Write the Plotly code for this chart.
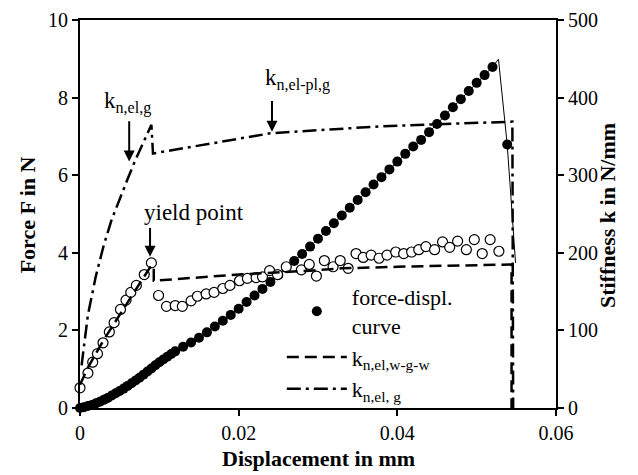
import plotly.graph_objects as go

# ---------------- data ----------------
# force-displacement curve (filled circles), F in N
disp_force = [0.0000, 0.0005, 0.0010, 0.0015, 0.0020, 0.0025, 0.0030, 0.0035, 0.0040, 0.0045,
              0.0050, 0.0055, 0.0060, 0.0065, 0.0070, 0.0075, 0.0080, 0.0085, 0.0090, 0.0095,
              0.0100, 0.0105, 0.0110, 0.0115, 0.0120, 0.0130, 0.0140, 0.0150, 0.0160, 0.0170,
              0.0180, 0.0190, 0.0200, 0.0210, 0.0220, 0.0230, 0.0240, 0.0250, 0.0260, 0.0270,
              0.0280, 0.0290, 0.0300, 0.0310, 0.0320, 0.0330, 0.0340, 0.0350, 0.0360, 0.0370,
              0.0380, 0.0390, 0.0400, 0.0410, 0.0420, 0.0430, 0.0440, 0.0450, 0.0460, 0.0470,
              0.0480, 0.0490, 0.0500, 0.0510, 0.0520]
force = [0.00, 0.02, 0.05, 0.08, 0.12, 0.16, 0.21, 0.26, 0.32, 0.38,
         0.44, 0.50, 0.57, 0.64, 0.71, 0.78, 0.86, 0.94, 1.02, 1.10,
         1.18, 1.25, 1.32, 1.39, 1.46, 1.58, 1.69, 1.81, 1.95, 2.10,
         2.25, 2.40, 2.56, 2.73, 2.90, 3.07, 3.25, 3.43, 3.61, 3.79,
         3.97, 4.16, 4.36, 4.56, 4.76, 4.96, 5.16, 5.36, 5.56, 5.76,
         5.95, 6.15, 6.35, 6.55, 6.74, 6.91, 7.11, 7.32, 7.54, 7.75,
         7.96, 8.17, 8.38, 8.58, 8.79]
# post-peak part of the force curve (thin line), and the single dot after the peak
tail_disp = [0.05275, 0.05385, 0.0549]
tail_force = [8.99, 6.79, 3.74]
drop_disp = [0.05385]
drop_force = [6.79]

# measured stiffness (open circles), k in N/mm
disp_stiff = [0.0000, 0.0010, 0.0016, 0.0022, 0.0029, 0.0037, 0.0043, 0.0051, 0.0058, 0.0064,
              0.0071, 0.0081, 0.0090, 0.0099, 0.0109, 0.0120, 0.0129, 0.0140, 0.0148, 0.0159,
              0.0169, 0.0180, 0.0189, 0.0201, 0.0211, 0.0222, 0.0230, 0.0239, 0.0249, 0.0260,
              0.0279, 0.0289, 0.0298, 0.0308, 0.0319, 0.0328, 0.0338, 0.0348, 0.0357, 0.0367,
              0.0377, 0.0387, 0.0398, 0.0408, 0.0418, 0.0427, 0.0436, 0.0447, 0.0457, 0.0466,
              0.0476, 0.0487, 0.0497, 0.0507, 0.0517, 0.0528]
stiff = [26, 45, 59, 70, 84, 98, 110, 127, 139, 149,
         158, 172, 187, 145, 131, 132, 131, 138, 144, 147,
         149, 154, 158, 164, 167, 168, 169, 177, 172, 182,
         178, 185, 170, 190, 182, 190, 180, 199, 194, 197,
         193, 197, 201, 199, 201, 204, 208, 204, 214, 207,
         215, 204, 217, 199, 217, 202]

# k_n,el,w-g-w (dashed), N/mm
disp_kw = [0.0, 0.001, 0.002, 0.003, 0.004, 0.005, 0.006, 0.007, 0.008, 0.009, 0.0093, 0.0093,
           0.012, 0.020, 0.029, 0.033, 0.040, 0.050, 0.0544, 0.0544]
k_w = [30, 52, 70, 88, 104, 120, 136, 152, 168, 184, 181, 164,
       166, 172, 177, 180, 182, 184, 185, -25]

# k_n,el,g (dash-dot), N/mm
disp_kg = [0.0002, 0.0005, 0.001, 0.002, 0.003, 0.004, 0.005, 0.006, 0.007, 0.008, 0.009, 0.0092,
           0.015, 0.024, 0.030, 0.038, 0.046, 0.0545, 0.0546]
k_g = [55, 80, 120, 170, 210, 243, 270, 295, 320, 343, 365, 328,
       338, 354, 358, 363, 366, 369, 0]

x_ticks = [0, 0.02, 0.04, 0.06]
x_ticktext = ["0", "0.02", "0.04", "0.06"]
yF_ticks = [0, 2, 4, 6, 8, 10]
yK_ticks = [0, 100, 200, 300, 400, 500]

# annotation labels: (text, x, y) and arrows: (x, tip y, tail y)
labels = [("k<sub>n,el,g</sub>", 0.00596, 7.87),
          ("k<sub>n,el-pl,g</sub>", 0.0274, 8.46),
          ("yield point", 0.01443, 5.03)]
arrows = [(0.0062, 6.35, 7.43),
          (0.0242, 7.12, 7.95),
          (0.00883, 3.90, 4.68)]

FONT = "Liberation Serif, Times New Roman, serif"

fig = go.Figure()

# thin line of the force curve (incl. post-peak)
fig.add_trace(go.Scatter(x=disp_force + tail_disp, y=force + tail_force, mode="lines",
                         line=dict(color="black", width=1), showlegend=False,
                         cliponaxis=False, hoverinfo="skip"))
# filled circles
fig.add_trace(go.Scatter(x=disp_force + drop_disp, y=force + drop_force, mode="markers",
                         marker=dict(color="black", size=10, line=dict(width=0)),
                         name="force-displ.<br>curve", cliponaxis=False))
# open circles (stiffness)
fig.add_trace(go.Scatter(x=disp_stiff, y=stiff, yaxis="y2", mode="markers",
                         marker=dict(color="white", size=10, line=dict(color="black", width=1.2)),
                         showlegend=False, cliponaxis=False))
# dashed k_n,el,w-g-w
fig.add_trace(go.Scatter(x=disp_kw, y=k_w, yaxis="y2", mode="lines",
                         line=dict(color="black", width=2.5, dash="12px,6px"),
                         name="k<sub>n,el,w-g-w</sub>"))
# dash-dot k_n,el,g
fig.add_trace(go.Scatter(x=disp_kg, y=k_g, yaxis="y2", mode="lines",
                         line=dict(color="black", width=2.5, dash="14px,5px,3px,5px"),
                         name="k<sub>n,el, g</sub>"))

annotations = []
for txt, x, y in labels:
    annotations.append(dict(x=x, y=y, xref="x", yref="y", text=txt, showarrow=False,
                            font=dict(family=FONT, size=23, color="black")))
for x, tip, tail in arrows:
    annotations.append(dict(x=x, y=tip, xref="x", yref="y", ax=x, ay=tail, axref="x", ayref="y",
                            text="", showarrow=True, arrowhead=2, arrowsize=1.1, arrowwidth=2,
                            arrowcolor="black"))

# axis titles as text placed in the margins
title_font = dict(family=FONT, size=22, color="black")
annotations.append(dict(x=0.5, y=-0.131, xref="paper", yref="paper", showarrow=False,
                        text="<b>Displacement in mm</b>", font=title_font,
                        xanchor="center", yanchor="middle"))
annotations.append(dict(x=-0.111, y=0.497, xref="paper", yref="paper", showarrow=False,
                        text="<b>Force F in N</b>", font=title_font, textangle=-90,
                        xanchor="center", yanchor="middle"))
annotations.append(dict(x=1.107, y=0.497, xref="paper", yref="paper", showarrow=False,
                        text="<b>Stiffness k in N/mm</b>", font=title_font, textangle=-90,
                        xanchor="center", yanchor="middle"))

axis_common = dict(showline=True, linecolor="black", linewidth=2, ticks="outside",
                   ticklen=6, tickwidth=2, tickcolor="black", showgrid=False, zeroline=False,
                   automargin=False,
                   tickfont=dict(family=FONT, size=20, color="black"))

# the page adds an 8px body margin, so the figure is 8px smaller than the window
fig.update_layout(
    width=630, height=467,
    margin=dict(l=72, r=82, t=12, b=67),
    paper_bgcolor="white", plot_bgcolor="white",
    font=dict(family=FONT, color="black"),
    xaxis=dict(range=[0, 0.06], tickvals=x_ticks, ticktext=x_ticktext, mirror=True,
               **axis_common),
    yaxis=dict(range=[0, 10], tickvals=yF_ticks, **axis_common),
    yaxis2=dict(range=[0, 500], tickvals=yK_ticks, overlaying="y", side="right",
                **axis_common),
    legend=dict(x=0.424, y=0.34, xanchor="left", yanchor="top", bgcolor="rgba(0,0,0,0)",
                font=dict(family=FONT, size=22, color="black"), tracegroupgap=0,
                itemwidth=60),
    annotations=annotations,
    showlegend=True,
)

fig.write_html("out.html")
